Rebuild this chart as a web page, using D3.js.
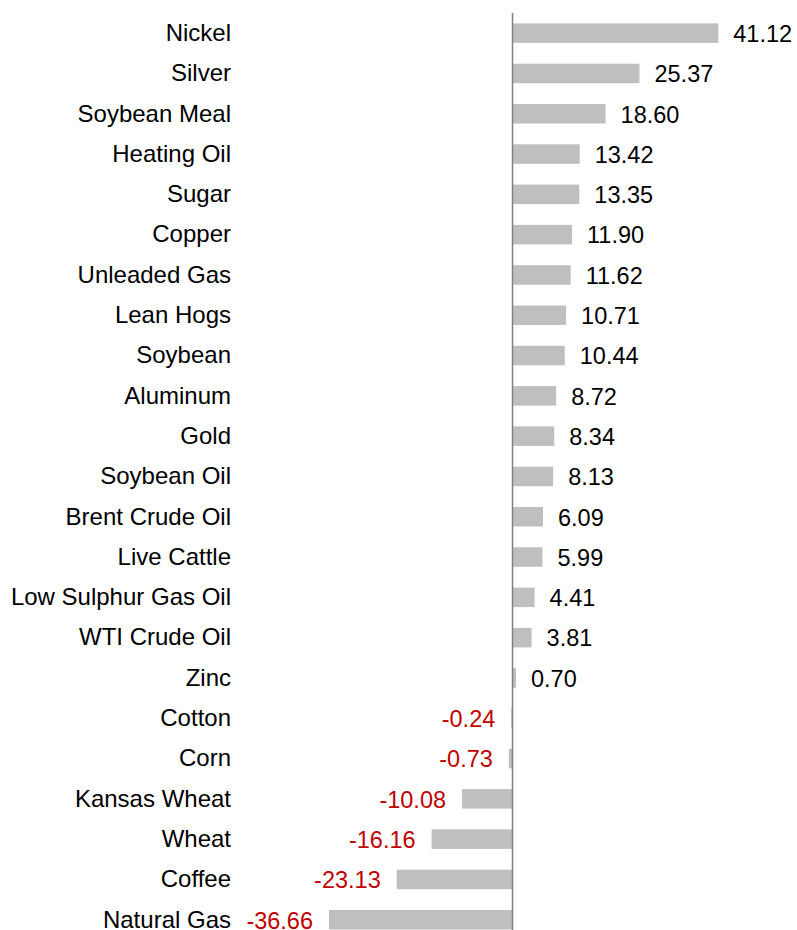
<!DOCTYPE html>
<html>
<head>
<meta charset="utf-8">
<script src="https://cdn.jsdelivr.net/npm/d3@7"></script>
<style>
  html, body { margin: 0; padding: 0; background: #fff; }
  svg { display: block; font-family: Arial, "Liberation Sans", sans-serif; }
</style>
</head>
<body>
<svg id="chart" width="797" height="930"></svg>
<script>
// Commodity returns (%)
const categories = [
  "Nickel", "Silver", "Soybean Meal", "Heating Oil", "Sugar", "Copper",
  "Unleaded Gas", "Lean Hogs", "Soybean", "Aluminum", "Gold", "Soybean Oil",
  "Brent Crude Oil", "Live Cattle", "Low Sulphur Gas Oil", "WTI Crude Oil",
  "Zinc", "Cotton", "Corn", "Kansas Wheat", "Wheat", "Coffee", "Natural Gas"
];
const values = [
  41.12, 25.37, 18.60, 13.42, 13.35, 11.90, 11.62, 10.71, 10.44, 8.72, 8.34,
  8.13, 6.09, 5.99, 4.41, 3.81, 0.70, -0.24, -0.73, -10.08, -16.16, -23.13, -36.66
];

const data = categories.map((c, i) => ({ name: c, value: values[i] }));

const svg = d3.select("#chart");

const x = d3.scaleLinear().domain([0, 41.12]).range([512.5, 718.3]);
const y = d3.scaleBand().domain(categories).range([13, 13 + 23 * 40.3]).padding(0);
const barH = 19.5;
const mid = d => y(d.name) + y.bandwidth() / 2;

// bars
svg.append("g").selectAll("rect")
  .data(data)
  .join("rect")
  .attr("x", d => Math.min(x(0), x(d.value)))
  .attr("y", d => mid(d) - barH / 2)
  .attr("width", d => Math.abs(x(d.value) - x(0)))
  .attr("height", barH)
  .attr("fill", "#bfbfbf");

// zero axis
svg.append("line")
  .attr("x1", x(0)).attr("x2", x(0))
  .attr("y1", 13).attr("y2", 930)
  .attr("stroke", "#808080")
  .attr("stroke-width", 1.5);

// category labels
svg.append("g").selectAll("text")
  .data(data)
  .join("text")
  .attr("x", 231)
  .attr("y", d => mid(d) + 7.8)
  .attr("text-anchor", "end")
  .attr("font-size", 24)
  .attr("fill", "#000")
  .text(d => d.name);

// value labels
svg.append("g").selectAll("text")
  .data(data)
  .join("text")
  .attr("x", d => d.value >= 0 ? x(d.value) + 15 : x(d.value) - 16)
  .attr("y", d => mid(d) + 8.8)
  .attr("text-anchor", d => d.value >= 0 ? "start" : "end")
  .attr("font-size", 23.5)
  .attr("fill", d => d.value >= 0 ? "#000" : "#c00000")
  .text(d => d.value.toFixed(2));
</script>
</body>
</html>
